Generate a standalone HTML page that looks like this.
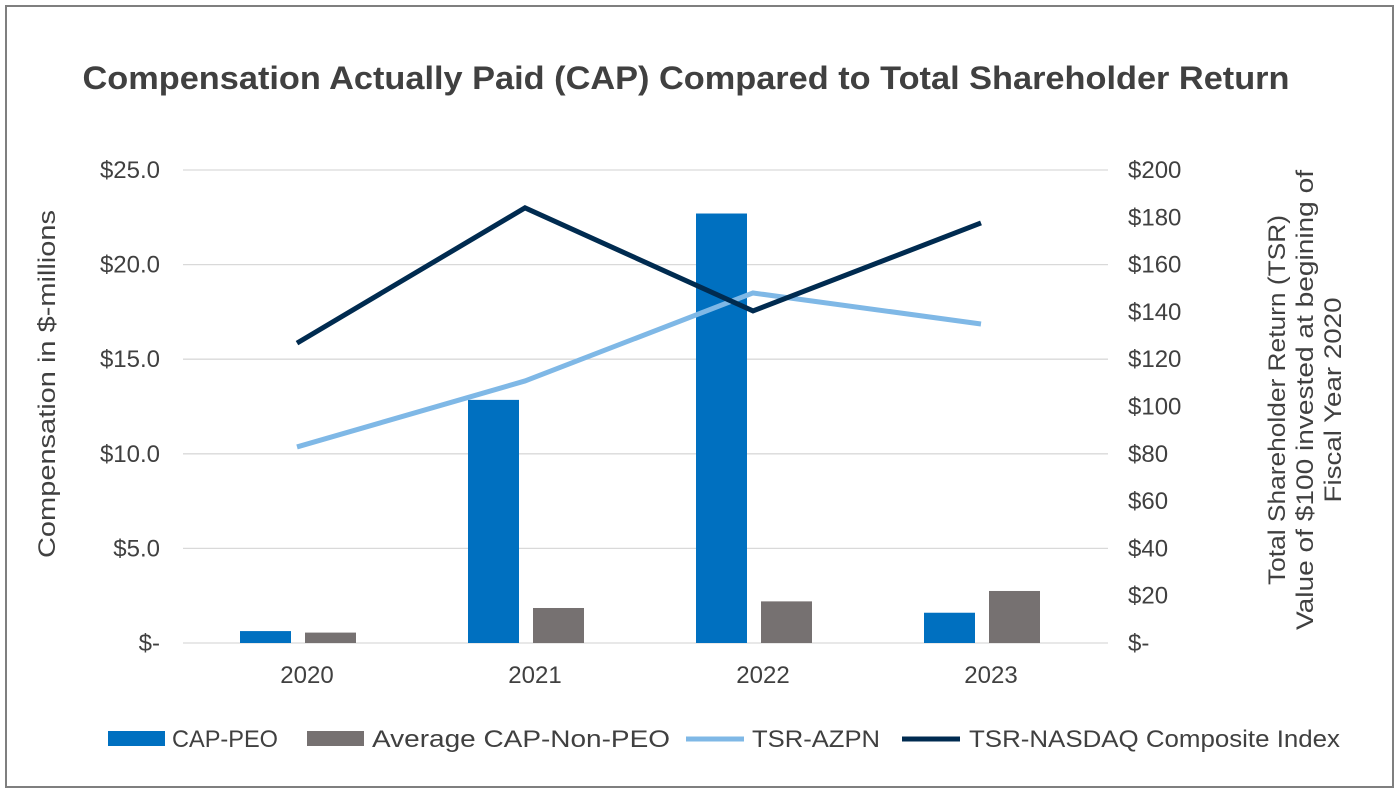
<!DOCTYPE html>
<html><head><meta charset="utf-8"><style>
body{margin:0;background:#fff;}
svg{display:block;font-family:"Liberation Sans",sans-serif;}
</style></head><body>
<svg id="c" width="1400" height="800">
<rect x="6" y="6" width="1387" height="781" fill="#fff" stroke="#7f7f7f" stroke-width="2"/>
<text x="686" y="89" text-anchor="middle" font-size="32" font-weight="bold" fill="#404040" textLength="1207" lengthAdjust="spacingAndGlyphs">Compensation Actually Paid (CAP) Compared to Total Shareholder Return</text>
<g id="grid"></g><g id="bars"></g><g id="lines"></g><g id="axes"></g>
<text transform="translate(55,384) rotate(-90)" text-anchor="middle" font-size="24" fill="#404040" textLength="348" lengthAdjust="spacingAndGlyphs">Compensation in $-millions</text>
<text transform="translate(1285,400) rotate(-90)" text-anchor="middle" font-size="24" fill="#404040" textLength="370" lengthAdjust="spacingAndGlyphs">Total Shareholder Return (TSR)</text>
<text transform="translate(1313,400) rotate(-90)" text-anchor="middle" font-size="24" fill="#404040" textLength="460" lengthAdjust="spacingAndGlyphs">Value of $100 invested at begining of</text>
<text transform="translate(1341,400) rotate(-90)" text-anchor="middle" font-size="24" fill="#404040" textLength="205" lengthAdjust="spacingAndGlyphs">Fiscal Year 2020</text>
<g font-size="24" fill="#404040">
<rect x="108" y="731" width="57" height="15" fill="#0070c0"/>
<text x="172" y="747" textLength="106" lengthAdjust="spacingAndGlyphs">CAP-PEO</text>
<rect x="307" y="731" width="57" height="15" fill="#767171"/>
<text x="372" y="747" textLength="298" lengthAdjust="spacingAndGlyphs">Average CAP-Non-PEO</text>
<line x1="686" y1="739" x2="744" y2="739" stroke="#7fb8e6" stroke-width="5"/>
<text x="752" y="747" textLength="128" lengthAdjust="spacingAndGlyphs">TSR-AZPN</text>
<line x1="902" y1="739" x2="960" y2="739" stroke="#002b50" stroke-width="5"/>
<text x="969" y="747" textLength="371" lengthAdjust="spacingAndGlyphs">TSR-NASDAQ Composite Index</text>
</g>
</svg>
<script>
const categories=["2020","2021","2022","2023"];
const capPeo=[0.63,12.85,22.7,1.6];
const capNonPeo=[0.55,1.85,2.2,2.75];
const tsrAzpn=[82.9,110.8,148,134.9];
const tsrNasdaq=[126.8,184,140.4,177.6];
const leftTicks=["$-","$5.0","$10.0","$15.0","$20.0","$25.0"];
const leftTickVals=[0,5,10,15,20,25];
const rightTicks=["$-","$20","$40","$60","$80","$100","$120","$140","$160","$180","$200"];
const rightTickVals=[0,20,40,60,80,100,120,140,160,180,200];
const NS="http://www.w3.org/2000/svg";
const plotTop=170,plotBot=643,gx0=183,gx1=1108;
const yL=v=>plotBot-(v/25)*(plotBot-plotTop);
const yR=v=>plotBot-(v/200)*(plotBot-plotTop);
const xC=i=>297+228*i;
function mk(t,a,p){const e=document.createElementNS(NS,t);for(const k in a)e.setAttribute(k,a[k]);document.getElementById(p).appendChild(e);return e;}
leftTickVals.forEach((v,i)=>{
 const l=mk("line",{x1:gx0,x2:gx1,y1:yL(v),y2:yL(v),stroke:"#d9d9d9","stroke-width":1.3},"grid");
 
 
 const t=mk("text",{x:160,y:yL(v)+8,"text-anchor":"end","font-size":24,fill:"#404040"},"axes");t.textContent=leftTicks[i];
 
 
});
rightTickVals.forEach((v,i)=>{
 const t=mk("text",{x:1128,y:yR(v)+8,"font-size":24,fill:"#404040"},"axes");t.textContent=rightTicks[i];
 
 
});
categories.forEach((c,i)=>{
 const t=mk("text",{x:xC(i)+10,y:683,"text-anchor":"middle","font-size":24,fill:"#404040"},"axes");t.textContent=c;
 
 
 const b=mk("rect",{x:xC(i)-57,y:yL(capPeo[i]),width:51,height:plotBot-yL(capPeo[i]),fill:"#0070c0"},"bars");
 
 
 const g=mk("rect",{x:xC(i)+8,y:yL(capNonPeo[i]),width:51,height:plotBot-yL(capNonPeo[i]),fill:"#767171"},"bars");
 
 
});
const pa=mk("polyline",{points:tsrAzpn.map((v,i)=>xC(i)+","+yR(v)).join(" "),fill:"none",stroke:"#7fb8e6","stroke-width":5},"lines");


const pn=mk("polyline",{points:tsrNasdaq.map((v,i)=>xC(i)+","+yR(v)).join(" "),fill:"none",stroke:"#002b50","stroke-width":5},"lines");


</script>
</body></html>
